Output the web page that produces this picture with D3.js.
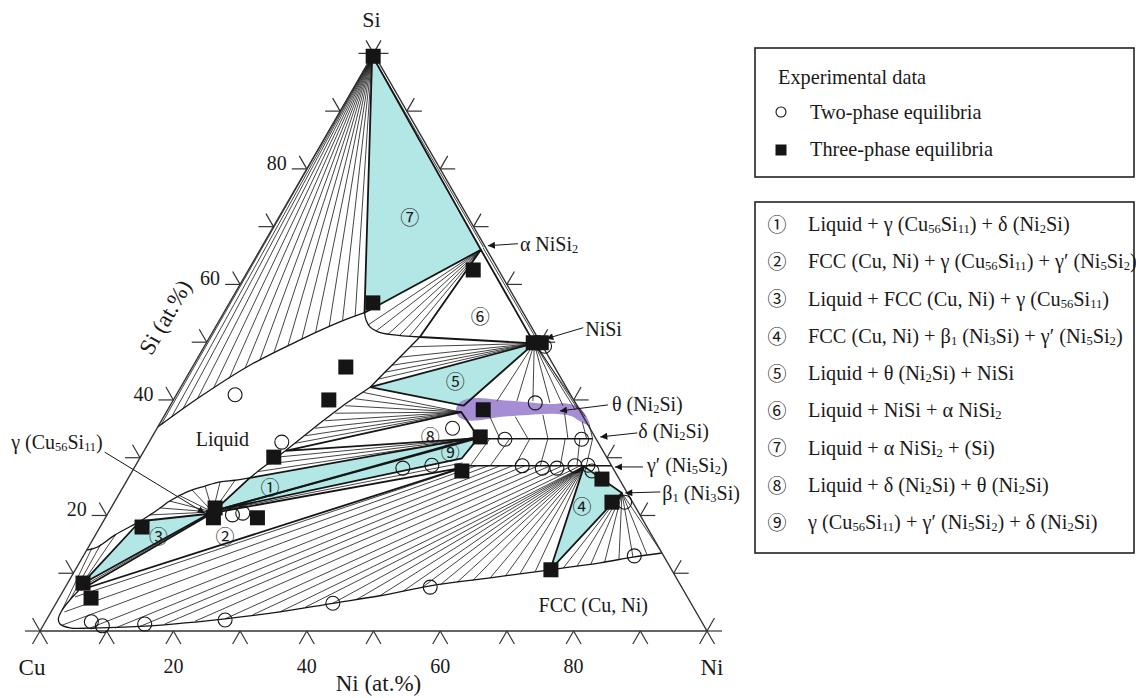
<!DOCTYPE html>
<html><head><meta charset="utf-8">
<script src="https://cdn.jsdelivr.net/npm/d3@7"></script>
<style>
body{margin:0;background:#fff}
svg text{font-family:"Liberation Serif","Times New Roman",serif;fill:#1a1a1a}
</style></head><body>
<svg id="chart" width="1136" height="698"></svg>
<script>
// ===== DATA (compositions in at.% : [Ni, Si]) =====
const tickValues = [0,10,20,30,40,50,60,70,80,90,100];
const tickLabels = [20,40,60,80];
const cornerNames = ["Cu","Ni","Si"];

// key phase points
const SI = [0,99.6], ALPHA=[33.1,66.0], NISI=[49.2,49.8];
const THETA5=[44.0,39.0], THETA8=[44.2,37.9], DELTA=[49.1,33.4];
const GAMMA=[15.6,20.6], GPL=[49.2,28.3], GPF=[67.3,28.5], BETA=[75.3,23.9];
const FCC4=[71.2,10.6], FCC2=[2.5,7.1], FCC3=[2.2,8.1];
const L1=[18.2,26.5], L3=[5.5,19.0], L5=[28.4,42.2], L6=[31.5,50.9], L7=[21.1,55.1], L8=[21.2,31.2];

// three-phase triangles
const triIds = ["7","6","5","8","1","9","2","3","4"];
const triVerts = [
  [SI, ALPHA, L7],
  [ALPHA, L6, NISI],
  [L5, NISI, THETA5],
  [L8, THETA8, DELTA],
  [L1, [15.7,20.8], [49.0,33.6]],
  [[15.7,20.8], [49.0,33.4], [48.3,29.9]],
  [FCC2, [15.6,20.4], GPL],
  [L3, FCC3, [15.2,20.3]],
  [GPF, BETA, FCC4]
];

// phase boundaries
const liqA = [[0,14],[1.3,14.5],[2.9,16.6],[5.5,19.0],[6.45,20.1],[7.35,21.3],[8.2,22.5],[10.0,24.1],[12.2,25.1],[14.1,25.8],[16.2,26.1],[18.2,26.5]];
const liqB = [[18.2,26.5],[19.0,27.9],[21.2,31.2],[24.0,36.0],[26.1,39.3],[28.4,42.2]];
const liqC = [[28.4,42.2],[29.3,44.8],[30.25,47.4],[31.5,50.9]];
const liqD = [[31.5,50.9],[27.1,51.3],[24.8,51.8],[23.2,52.6],[22.0,53.8],[21.1,55.1]];
const liqE = [[21.1,55.1],[18.2,53.5],[13.8,50.4],[8.5,46.05],[3.7,40.5],[0,35.3]];
const fccBoundary = [[86.5,13.5],[82.5,12.8],[78.1,11.8],[71.2,10.6],[62.9,9.2],[54.6,7.8],[47.9,6.1],[41.5,4.8],[34.3,3.3],[26.7,2.1],[19.3,1.2],[13.1,0.7],[7.2,0.5],[4.2,0.55],[2.4,1.2],[1.7,2.1],[1.5,3.6],[1.8,5.4],[2.3,7.2],[2.2,8.1]];
const deltaLine = [[48.3,33.3],[66.2,33.3]];
const gammaPLine = [[49.2,28.6],[71.4,28.6]];
const thetaRegion = [[43.3,38.1],[43.1,39.5],[44.1,40.2],[46.1,40.3],[49.0,40.0],[52.9,39.65],[56.8,39.3],[59.2,39.4],[61.3,38.8],[63.0,37.5],[64.6,35.6],[62.8,36.3],[61.0,37.2],[58.1,37.6],[54.5,37.4],[50.4,37.05],[47.7,36.5],[45.6,36.5],[44.3,37.05]];
const edgeLines = [
  [[0,99.6],[33.3,66.4]],
  [[33.3,66.3],[49.7,50.0]],
  [[49.6,49.6],[61.4,38.4]],
  [[64.5,35.7],[66.2,33.3]],
  [[66.2,33.3],[67.6,28.6]],
  [BETA,[86.5,13.5]]
];

// tie lines: fans (common origin) and explicit pairs
const tiesLSi = [[0.3,35.7],[1.2,37.0],[2.2,38.4],[3.5,40.2],[5.0,42.0],[6.5,43.7],[8.0,45.5],[9.5,46.9],[11.0,48.1],[12.5,49.3],[14.0,50.5],[15.5,51.6],[17.0,52.7],[18.5,53.7],[20.0,54.5]];
const tiesLAlpha = [[22.7,53.0],[24.4,51.9],[26.5,51.4],[28.35,51.2],[29.9,51.05]];
const tiesLNiSi = [[30.9,49.2],[30.25,47.4],[29.75,46.0],[29.3,44.8],[28.9,43.6]];
const tiesLTheta = [[22.0,32.5],[22.85,33.8],[23.7,35.1],[24.55,36.4],[25.4,37.7],[26.25,39.0],[27.1,40.2],[27.8,41.3]];
const tiesLDelta = [[18.9,27.6],[19.7,28.9],[20.5,30.1]];
const tiesLGamma = [[6.45,20.1],[7.35,21.3],[8.2,22.5],[9.3,23.4],[10.6,24.4],[12.2,25.1],[14.1,25.8],[16.2,26.1]];
const tiesNiSiTheta = [[48.6,39.8],[51.6,39.8],[54.0,39.8],[56.7,39.5],[58.9,39.0],[61.1,38.3],[63.2,37.1]];
const tiesFccBeta = [[73.0,10.9],[74.9,11.2],[76.8,11.55],[78.7,11.9],[80.6,12.4],[82.5,12.8],[84.4,13.2]];
const tiesGammaMisc = [[2.4,7.6],[48.8,29.1]];
const tiesFccGp = [
  [[2.3,5.9],[49.7,28.4]],[[2.0,3.3],[51.1,28.6]],[[2.8,1.0],[52.9,28.6]],[[7.2,0.5],[54.7,28.6]],
  [[11.0,0.5],[56.5,28.6]],[[14.6,0.8],[58.4,28.6]],[[18.1,1.2],[60.4,28.6]],[[22.4,1.7],[62.2,28.6]],
  [[26.7,2.1],[64.0,28.6]],[[30.5,2.8],[65.5,28.6]],[[34.3,3.3],[66.7,28.6]],[[37.7,4.1],GPF],
  [[41.5,4.8],GPF],[[44.8,5.5],GPF],[[47.9,6.1],GPF],[[51.0,6.9],GPF],[[53.5,7.5],GPF],
  [[56.0,8.0],GPF],[[58.3,8.4],GPF],[[60.5,8.7],GPF],[[62.9,9.2],GPF],[[65.0,9.5],GPF],
  [[67.0,9.95],GPF],[[69.1,10.3],GPF]
];
const tiesDeltaGp = [[[50.8,33.3],[50.2,28.6]],[[53.8,33.3],[53.2,28.6]],[[56.8,33.3],[56.9,28.6]],[[59.5,33.3],[60.7,28.6]],[[62.1,33.3],[63.7,28.6]],[[64.3,33.3],[66.2,28.6]]];
const tiesThetaDelta = [[[48.9,37.1],[52.3,33.3]],[[52.7,37.1],[56.5,33.3]],[[56.7,37.4],[59.5,33.3]],[[59.8,37.7],[62.5,33.3]],[[63.2,36.2],[65.3,33.3]]];
const tiesLFcc = [[[1.5,3.6],[0.6,14.4]],[[1.8,5.4],[1.6,15.0]],[[2.1,7.0],[3.0,16.7]]];

// experimental data
const twoPhase = [[8.8,40.9],[19.9,32.7],[44.3,35.1],[53.1,33.2],[64.6,33.2],[54.5,39.5],[40.3,28.2],[44.4,28.7],[58.0,28.6],[61.2,28.2],[63.4,28.2],[65.9,28.6],[67.8,28.7],[68.9,27.7],[76.5,22.3],[82.6,13.0],[54.7,7.6],[41.5,4.8],[26.8,1.9],[15.1,1.2],[8.9,0.9],[6.9,1.6],[18.8,20.1],[20.2,20.4],[51.0,49.3]];
const threePhase = [[0.2,99.5],[33.7,62.5],[21.5,56.8],[49.0,49.9],[50.2,49.9],[23.0,45.7],[23.3,40.0],[47.3,38.3],[49.2,33.6],[20.0,30.1],[49.4,27.7],[15.6,21.3],[16.2,19.6],[22.8,19.6],[6.3,18.0],[2.3,8.3],[4.8,5.7],[71.3,10.6],[71.1,26.3],[74.6,22.3]];

// region labels
const regionNums = ["①","②","③","④","⑤","⑥","⑦","⑧","⑨"];
const regionAt = [[22.1,24.8],[19.6,16.3],[9.6,16.3],[70.5,21.5],[40.7,43.1],[38.8,54.4],[19.7,71.5],[41.7,33.6],[46.1,30.8]];
const phaseNames = ["Liquid","FCC (Cu, Ni)"];
const phaseNameAt = [[10.8,33.1],[80.7,4.5]];

// annotated phases (arrow target compositions)
const annotTexts = ["α NiSi_{2}","NiSi","θ (Ni_{2}Si)","δ (Ni_{2}Si)","γ′ (Ni_{5}Si_{2})","β_{1} (Ni_{3}Si)","γ (Cu_{56}Si_{11})"];
const annotTargets = [[33.8,66.7],[50.6,50.6],[58.9,38.1],[67.2,33.6],[72.0,28.4],[75.8,23.9],[14.5,20.4]];

// legend
const legendTitle = "Experimental data";
const legendMarks = ["Two-phase equilibria","Three-phase equilibria"];
const legendRegions = [
  "Liquid + γ (Cu_{56}Si_{11}) + δ (Ni_{2}Si)",
  "FCC (Cu, Ni) + γ (Cu_{56}Si_{11}) + γ′ (Ni_{5}Si_{2})",
  "Liquid + FCC (Cu, Ni) + γ (Cu_{56}Si_{11})",
  "FCC (Cu, Ni) + β_{1} (Ni_{3}Si) + γ′ (Ni_{5}Si_{2})",
  "Liquid + θ (Ni_{2}Si) + NiSi",
  "Liquid + NiSi + α NiSi_{2}",
  "Liquid + α NiSi_{2} + (Si)",
  "Liquid + δ (Ni_{2}Si) + θ (Ni_{2}Si)",
  "γ (Cu_{56}Si_{11}) + γ′ (Ni_{5}Si_{2}) + δ (Ni_{2}Si)"
];

// ===== LAYOUT / STYLE =====
const CYAN = "#b3e7e5", PURPLE = "#a58ed4", INK = "#151515";
const filledTri = {"7":1,"5":1,"1":1,"9":1,"3":1,"4":1};
const annotLayout = [ // [tailDx, tailDy, textDx, textDy, anchor]
  [30,-2,32,5,"start"],[37,-11,39,-3,"start"],[48,-6,52,0,"start"],[37,-4,38,1,"start"],
  [28,0,32,5,"start"],[35,-1,37,7,"start"],[-100,-61,-102,-64,"end"]
];
const FS = 20;

// ===== RENDER =====
const svg = d3.select("#chart");
const s3 = Math.sqrt(3);
const xs = d3.scaleLinear().domain([0,100]).range([40,707]);
const ys = d3.scaleLinear().domain([0,100]).range([631,-36]);
const P = c => [xs(c[0] + c[1]/2), ys(c[1]*s3/2)];
const lin = d3.line().x(d=>P(d)[0]).y(d=>P(d)[1]);
const smooth = d3.line().x(d=>P(d)[0]).y(d=>P(d)[1]).curve(d3.curveCatmullRom.alpha(0.5));

const defs = svg.append("defs");
defs.append("marker").attr("id","ah").attr("viewBox","0 0 10 10").attr("refX",10).attr("refY",5)
  .attr("markerWidth",9).attr("markerHeight",7).attr("markerUnits","userSpaceOnUse").attr("orient","auto")
  .append("path").attr("d","M0,0L10,5L0,10z").attr("fill",INK);

const gFill = svg.append("g"), gTie = svg.append("g"), gB = svg.append("g"), gAx = svg.append("g"), gM = svg.append("g"), gT = svg.append("g");

// fills
triVerts.forEach((v,i)=>{ if(filledTri[triIds[i]]) gFill.append("path").attr("d",lin(v.concat([v[0]]))).attr("fill",CYAN); });
gFill.append("path").attr("d", d3.line().x(d=>P(d)[0]).y(d=>P(d)[1]).curve(d3.curveCatmullRomClosed.alpha(0.5))(thetaRegion)).attr("fill",PURPLE);

// tie lines
const tie = (a,b)=> gTie.append("line").attr("x1",P(a)[0]).attr("y1",P(a)[1]).attr("x2",P(b)[0]).attr("y2",P(b)[1]).attr("stroke",INK).attr("stroke-width",0.8);
tiesLSi.forEach(e=>tie(SI,e));
tiesLAlpha.forEach(e=>tie(ALPHA,e));
tiesLNiSi.forEach(e=>tie(NISI,e));
tiesLTheta.forEach(e=>tie(THETA8,e));
tiesLDelta.forEach(e=>tie(DELTA,e));
tiesLGamma.forEach(e=>tie(GAMMA,e));
tiesNiSiTheta.forEach(e=>tie(NISI,e));
tiesFccBeta.forEach(e=>tie(BETA,e));
tiesGammaMisc.forEach(e=>tie(GAMMA,e));
[tiesFccGp,tiesDeltaGp,tiesThetaDelta,tiesLFcc].forEach(arr=>arr.forEach(p=>tie(p[0],p[1])));
edgeLines.forEach(p=>tie(p[0],p[1]));

// boundaries
[liqA,liqD,liqE].forEach(a=> gB.append("path").attr("d",smooth(a)).attr("fill","none").attr("stroke",INK).attr("stroke-width",1.3));
[liqB,liqC].forEach(a=> gB.append("path").attr("d",lin(a)).attr("fill","none").attr("stroke",INK).attr("stroke-width",1.3));
gB.append("path").attr("d",smooth(fccBoundary)).attr("fill","none").attr("stroke",INK).attr("stroke-width",1.3);
[deltaLine,gammaPLine].forEach(a=> gB.append("path").attr("d",lin(a)).attr("fill","none").attr("stroke",INK).attr("stroke-width",1.5));
triVerts.forEach(v=> gB.append("path").attr("d",lin(v.concat([v[0]]))).attr("fill","none").attr("stroke",INK).attr("stroke-width",1.8).attr("stroke-linejoin","round"));

// triangle outline & ticks
const corners = [[0,0],[100,0],[0,100]];
gAx.append("path").attr("d",lin(corners.concat([corners[0]]))).attr("fill","none").attr("stroke","#333").attr("stroke-width",1.4);
const TL = 15;
tickValues.forEach(t=>{
  const seg=(p,dx,dy)=>gAx.append("line").attr("x1",p[0]).attr("y1",p[1]).attr("x2",p[0]+dx*TL).attr("y2",p[1]+dy*TL).attr("stroke","#333").attr("stroke-width",1.2);
  let p=P([t,0]); seg(p,-0.5,s3/2); seg(p,0.5,s3/2);
  p=P([0,t]); seg(p,-1,0); seg(p,-0.5,-s3/2);
  p=P([100-t,t]); seg(p,1,0); seg(p,0.5,-s3/2);
});
tickLabels.forEach(t=>{
  let p=P([t,0]); gAx.append("text").attr("x",p[0]).attr("y",p[1]+42).attr("text-anchor","middle").attr("font-size",FS).text(t);
  p=P([0,t]); gAx.append("text").attr("x",p[0]-20).attr("y",p[1]+1).attr("text-anchor","end").attr("font-size",FS).text(t);
});
const cp = corners.map(P);
gAx.append("text").attr("x",cp[0][0]-8).attr("y",675).attr("text-anchor","middle").attr("font-size",23).text(cornerNames[0]);
gAx.append("text").attr("x",cp[1][0]+5).attr("y",675).attr("text-anchor","middle").attr("font-size",23).text(cornerNames[1]);
gAx.append("text").attr("x",cp[2][0]-2).attr("y",27).attr("text-anchor","middle").attr("font-size",22).text(cornerNames[2]);
gAx.append("text").attr("x",(cp[0][0]+cp[1][0])/2+5).attr("y",691).attr("text-anchor","middle").attr("font-size",23).text("Ni (at.%)");
gAx.append("text").attr("transform",`translate(${165},${317}) rotate(-60)`).attr("text-anchor","middle").attr("font-size",23).attr("dy","0.35em").text("Si (at.%)");

// markers
twoPhase.forEach(c=> gM.append("circle").attr("cx",P(c)[0]).attr("cy",P(c)[1]).attr("r",7).attr("fill","none").attr("stroke",INK).attr("stroke-width",1.1));
threePhase.forEach(c=> gM.append("rect").attr("x",P(c)[0]-7.5).attr("y",P(c)[1]-7.5).attr("width",15).attr("height",15).attr("fill",INK));

// rich text helper
function rich(sel, str, fs){
  const parts = str.split(/_\{([^}]*)\}/);
  let shifted=false;
  parts.forEach((s,i)=>{
    if(s==="") return;
    if(i%2===1){ sel.append("tspan").attr("font-size",fs*0.62).attr("dy",fs*0.1).text(s); shifted=true; }
    else { const t=sel.append("tspan").text(s); if(shifted){ t.attr("dy",-fs*0.1); shifted=false; } }
  });
}

// region labels
regionNums.forEach((n,i)=>{ const p=P(regionAt[i]);
  gT.append("text").attr("x",p[0]).attr("y",p[1]).attr("dy","0.36em").attr("text-anchor","middle")
   .style("font-family","'Noto Sans CJK JP','DejaVu Sans',sans-serif").attr("font-size",19).text(n); });
phaseNames.forEach((n,i)=>{ const p=P(phaseNameAt[i]);
  gT.append("text").attr("x",p[0]).attr("y",p[1]).attr("dy","0.33em").attr("text-anchor","middle").attr("font-size",FS).text(n); });

// annotations
annotTexts.forEach((txt,i)=>{
  const h=P(annotTargets[i]), L=annotLayout[i];
  gT.append("line").attr("x1",h[0]+L[0]).attr("y1",h[1]+L[1]).attr("x2",h[0]).attr("y2",h[1]).attr("stroke",INK).attr("stroke-width",1).attr("marker-end","url(#ah)");
  const t=gT.append("text").attr("x",h[0]+L[2]).attr("y",h[1]+L[3]).attr("text-anchor",L[4]).attr("font-size",FS);
  rich(t,txt,FS);
});

// legend
const LFS = 20.3;
const gL = svg.append("g");
gL.append("rect").attr("x",755).attr("y",48).attr("width",379).attr("height",129).attr("fill","none").attr("stroke","#222").attr("stroke-width",1.6);
gL.append("text").attr("x",778).attr("y",84).attr("font-size",LFS).text(legendTitle);
gL.append("circle").attr("cx",781).attr("cy",112).attr("r",5).attr("fill","none").attr("stroke",INK).attr("stroke-width",1.1);
gL.append("rect").attr("x",775.5).attr("y",144.5).attr("width",11).attr("height",11).attr("fill",INK);
legendMarks.forEach((m,i)=> gL.append("text").attr("x",810).attr("y",119+i*37).attr("font-size",LFS).text(m));
gL.append("rect").attr("x",755).attr("y",202).attr("width",379).attr("height",351).attr("fill","none").attr("stroke","#222").attr("stroke-width",1.6);
legendRegions.forEach((r,i)=>{
  const yy = 225 + i*37.25;
  gL.append("text").attr("x",777).attr("y",yy).attr("dy","0.36em").attr("text-anchor","middle")
    .style("font-family","'Noto Sans CJK JP','DejaVu Sans',sans-serif").attr("font-size",19).text(regionNums[i]);
  const t=gL.append("text").attr("x",808).attr("y",yy+6).attr("font-size",LFS);
  rich(t,r,LFS);
});
</script></body></html>
